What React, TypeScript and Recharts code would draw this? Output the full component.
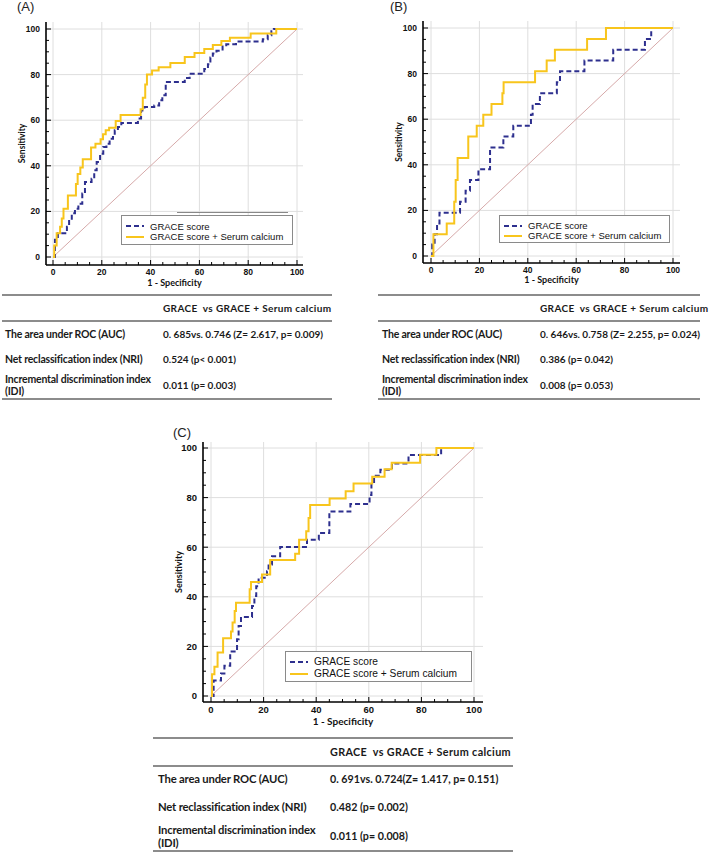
import React from "react";
import { LineChart, Line, XAxis, YAxis, CartesianGrid, Legend } from "recharts";

type Pt = [number, number];

// tick values (1 - specificity / sensitivity, %)
const majorTicks = [0, 20, 40, 60, 80, 100];
const minorTicks = [0, 5, 10, 15, 20, 25, 30, 35, 40, 45, 50, 55, 60, 65, 70, 75, 80, 85, 90, 95, 100];

const seriesNames = ["GRACE score", "GRACE score + Serum calcium"];

// ROC points
const aGrace: Pt[] = [
  [0, 0], [0.8, 7.6], [2, 10.4], [5.7, 13.3], [6.6, 16.2], [7.7, 19.2], [9, 21.2], [10.4, 23.4],
  [12, 27.8], [13.1, 32.9], [15.8, 34.3], [16.9, 38], [17.9, 41.7], [19.3, 45.3], [20.6, 48.2],
  [21.9, 49.7], [23.2, 51.9], [24.6, 53.4], [25.3, 55.6], [26.6, 57], [28, 58.8], [34.8, 60.7],
  [36.1, 64.3], [37.5, 65.8], [41.5, 66.5], [43.5, 68.7], [44.8, 70.9], [46.2, 76.8], [54, 78.5],
  [56, 80.4], [62, 82.5], [63.5, 84.5], [64.5, 87.5], [65.5, 89.3], [67, 90.5], [69.5, 92.3],
  [71, 93.3], [75, 94.5], [86, 95.5], [88, 97.3], [89.5, 99], [90.5, 100], [100, 100],
];
const aCalcium: Pt[] = [
  [0, 0], [0.5, 5], [1.5, 10.4], [2.9, 13.3], [3.6, 16.9], [4.3, 21.2], [6.1, 27], [9.4, 32],
  [10.1, 36.4], [11.2, 39.3], [12.2, 42.9], [15.6, 48], [17.4, 49.7], [19.5, 51.6], [20.5, 53.8],
  [21.6, 55.6], [23, 56.7], [25.7, 59.6], [27.7, 62.3], [35.9, 64.8], [36.8, 69.9], [37.8, 75.7],
  [38.5, 80], [40.6, 81.8], [43.3, 83.2], [48.1, 85.1], [54, 87.7], [58, 89.5], [62, 91.2],
  [65.5, 93], [69, 94.7], [72.5, 96.2], [81, 98], [91.5, 100], [100, 100],
];

// panel (B)
const bGrace: Pt[] = [
  [0, 0], [0.5, 5], [1.5, 9.5], [2.5, 14.3], [3.5, 19], [12, 23.8], [14.3, 28.6], [16.1, 33.3],
  [19.6, 38.1], [24.4, 47.6], [29.9, 52.4], [34, 57.1], [41.3, 61.9], [42, 66.7], [45, 71.4],
  [52, 76.2], [53.3, 81], [63.4, 85.7], [75.3, 90.5], [88.4, 95.2], [91, 100], [100, 100],
];
const bCalcium: Pt[] = [
  [0, 0], [1, 9.5], [6.5, 14.3], [9.6, 23.8], [10.2, 33.3], [11, 43], [15.4, 52.4], [18.9, 57.1],
  [21.6, 61.9], [25, 66.7], [29.5, 71.4], [30, 76.2], [43, 81], [47.8, 85.7], [51.2, 90.5],
  [64.5, 95.2], [72.3, 100], [100, 100],
];

// panel (C)
const cGrace: Pt[] = [
  [0, 0], [1, 6.2], [3.8, 9.1], [5.1, 12.2], [7.3, 17.9], [9.9, 22.9], [10.5, 28.2], [11.4, 31.9],
  [15.6, 36.3], [16.5, 40.3], [17.2, 44.3], [18.1, 47.7], [21.3, 50.3], [21.9, 53], [23.2, 56.4],
  [26.3, 60.1], [36.5, 63], [41, 65.7], [45, 74.4], [53, 77.4], [60.3, 81], [61, 85.8], [62, 88.8],
  [64.4, 91.2], [68.8, 93.8], [75.1, 97.2], [87.5, 100], [100, 100],
];
const cCalcium: Pt[] = [
  [0, 0], [0.4, 8.8], [1.3, 11.8], [2.5, 17.5], [4.6, 23.3], [7.6, 26], [8.2, 29.6], [9, 34.3],
  [9.5, 37.6], [14.7, 43], [15.2, 46], [19.4, 49], [22.5, 54.8], [32, 57.4], [33.5, 63], [36.2, 66.4],
  [37.1, 71.8], [37.7, 77], [45.1, 79.6], [51.2, 82.6], [54.2, 85.7], [61.3, 88.4], [66, 91.4],
  [68.7, 94.1], [79.5, 97.3], [85.7, 100], [100, 100],
];

const chance: Pt[] = [[0, 0], [100, 100]];

// table text
const tableHeader = "GRACE  vs GRACE + Serum calcium";
const rowLabels = [["The area under ROC (AUC)"], ["Net reclassification index (NRI)"], ["Incremental discrimination index", "(IDI)"]];
const aValues = ["0. 685vs. 0.746 (Z= 2.617, p= 0.009)", "0.524 (p< 0.001)", "0.011 (p= 0.003)"];
const bValues = ["0. 646vs. 0.758 (Z= 2.255, p= 0.024)", "0.386 (p= 0.042)", "0.008 (p= 0.053)"];
const cValues = ["0. 691vs. 0.724(Z= 1.417, p= 0.151)", "0.482 (p= 0.002)", "0.011 (p= 0.008)"];

const BLUE = "#2d2f8e";
const GOLD = "#f8c51c";
const ARIAL = '"Liberation Sans", Arial, sans-serif';
const CALIBRI = 'Lato, "Open Sans", sans-serif';

const toData = (pts: Pt[]) => pts.map(([x, y]) => ({ x, y }));

function XTick(props: any) {
  const { x, y, payload, fs } = props;
  const major = majorTicks.includes(payload.value);
  return (
    <g>
      <line x1={x} y1={y} x2={x} y2={y - (major ? 5 : 3)} stroke="#000" strokeWidth={1} />
      {major && (
        <text x={x} y={y + fs + 1.5} textAnchor="middle" fontSize={fs} fontWeight="bold" fontFamily={ARIAL} fill="#111">
          {payload.value}
        </text>
      )}
    </g>
  );
}

function YTick(props: any) {
  const { x, y, payload, fs } = props;
  const major = majorTicks.includes(payload.value);
  return (
    <g>
      <line x1={x} y1={y} x2={x + (major ? 5 : 3)} y2={y} stroke="#000" strokeWidth={1} />
      {major && (
        <text x={x - 6} y={y + fs * 0.36} textAnchor="end" fontSize={fs} fontWeight="bold" fontFamily={ARIAL} fill="#111">
          {payload.value}
        </text>
      )}
    </g>
  );
}

function LegendBox({ payload, box }: any) {
  const items = (payload || []).filter((p: any) => p.type !== "none");
  return (
    <div
      style={{
        position: "relative",
        width: box.width,
        height: box.height,
        border: "1px solid #8a8a8a",
        background: "#fff",
        boxSizing: "border-box",
      }}
    >
      {box.stray && (
        <div style={{ position: "absolute", left: box.stray[0], top: -4, width: box.stray[1], height: 1, background: "#888" }} />
      )}
      {items.map((entry: any, i: number) => (
        <div
          key={entry.value}
          style={{ position: "absolute", left: 4, top: box.rows[i] - 6, height: 12, display: "flex", alignItems: "center" }}
        >
          <svg width={18} height={4}>
            <line
              x1={0}
              y1={2}
              x2={18}
              y2={2}
              stroke={entry.color}
              strokeWidth={2}
              strokeDasharray={entry.value === seriesNames[0] ? "5 3" : undefined}
            />
          </svg>
          <span style={{ marginLeft: 6, fontSize: box.fs, fontFamily: ARIAL, color: "#111", whiteSpace: "nowrap" }}>
            {entry.value}
          </span>
        </div>
      ))}
    </div>
  );
}

function RocPanel({ cfg }: any) {
  return (
    <div style={{ position: "absolute", left: cfg.left, top: cfg.top }}>
      <LineChart width={cfg.width} height={cfg.height} margin={cfg.margin}>
        <CartesianGrid stroke="#dedede" horizontalValues={majorTicks} verticalValues={majorTicks} />
        <XAxis
          type="number"
          dataKey="x"
          domain={[0, 100]}
          ticks={minorTicks}
          interval={0}
          tickSize={0}
          tickMargin={0}
          height={cfg.xAxisHeight}
          padding={cfg.padX}
          axisLine={{ stroke: "#000", strokeWidth: 1.6 }}
          tick={(p: any) => <XTick {...p} fs={cfg.tickFs} />}
          label={{
            value: "1 - Specificity",
            position: "insideBottom",
            offset: cfg.xLabelOffset,
            fontSize: cfg.labelFs,
            fontWeight: "bold",
            fontFamily: CALIBRI,
            fill: "#111",
          }}
        />
        <YAxis
          type="number"
          dataKey="y"
          domain={[0, 100]}
          ticks={minorTicks}
          interval={0}
          tickSize={0}
          tickMargin={0}
          width={cfg.yAxisWidth}
          padding={cfg.padY}
          axisLine={{ stroke: "#000", strokeWidth: 1.6 }}
          tick={(p: any) => <YTick {...p} fs={cfg.tickFs} />}
          label={{
            value: "Sensitivity",
            angle: -90,
            position: "insideLeft",
            offset: cfg.yLabelOffset,
            textAnchor: "middle",
            fontSize: cfg.yLabelFs,
            fontWeight: "bold",
            fontFamily: CALIBRI,
            fill: "#111",
          }}
        />
        <Legend
          layout="horizontal"
          verticalAlign="middle"
          align="center"
          wrapperStyle={{ position: "absolute", left: cfg.legend.left, top: cfg.legend.top, width: cfg.legend.width }}
          content={(p: any) => <LegendBox payload={p.payload} box={cfg.legend} />}
        />
        <Line
          data={toData(chance)}
          dataKey="y"
          type="linear"
          stroke="#d6a9a9"
          strokeWidth={1}
          dot={false}
          legendType="none"
          isAnimationActive={false}
        />
        <Line
          data={toData(cfg.grace)}
          dataKey="y"
          name={seriesNames[0]}
          type="stepAfter"
          stroke={BLUE}
          strokeWidth={2}
          strokeDasharray="5 3"
          dot={false}
          isAnimationActive={false}
        />
        <Line
          data={toData(cfg.calcium)}
          dataKey="y"
          name={seriesNames[1]}
          type="stepAfter"
          stroke={GOLD}
          strokeWidth={2}
          dot={false}
          isAnimationActive={false}
        />
      </LineChart>
    </div>
  );
}

function StatsTable({ t, values }: any) {
  const line = (y: number) => (
    <div key={"l" + y} style={{ position: "absolute", left: 0, top: y - 1, width: t.width, height: 2, background: "#8c8c8c" }} />
  );
  const txt = (key: string, x: number, cy: number, s: string, fs: number, ls: number) => (
    <div
      key={key}
      style={{
        position: "absolute",
        left: x,
        top: cy - (fs + 2) / 2,
        height: fs + 2,
        lineHeight: `${fs + 2}px`,
        fontSize: fs,
        letterSpacing: ls,
        fontWeight: "bold",
        fontFamily: CALIBRI,
        color: "#1a1a1a",
        whiteSpace: "pre",
      }}
    >
      {s}
    </div>
  );
  return (
    <div style={{ position: "absolute", left: t.left, top: t.top, width: t.width }}>
      {t.lines.map(line)}
      {txt("h", t.valueX, t.headerY, tableHeader, t.headerFs, t.headerLs)}
      {rowLabels.map((lab, i) =>
        lab.map((s, j) =>
          txt(`r${i}${j}`, t.labelX, t.rowY[i] - ((lab.length - 1) * t.wrap) / 2 + j * t.wrap, s, t.labelFs, t.labelLs)
        )
      )}
      {values.map((v: string, i: number) => txt(`v${i}`, t.valueX, t.rowY[i], v, t.valueFs, 0))}
    </div>
  );
}

const panelA = {
  left: 0, top: 0, width: 320, height: 292,
  margin: { top: 22, right: 17, bottom: 5, left: 16 },
  yAxisWidth: 30, xAxisHeight: 22,
  padX: { left: 7, right: 6 }, padY: { top: 7, bottom: 8 },
  tickFs: 8.5, labelFs: 9, yLabelFs: 8.5, xLabelOffset: 1, yLabelOffset: 6,
  legend: { left: 121, top: 215, width: 172, height: 30, rows: [10, 20.7], fs: 9.5, stray: [55, 111] },
  grace: aGrace, calcium: aCalcium,
};
const panelB = {
  left: 377, top: 0, width: 320, height: 292,
  margin: { top: 21, right: 17, bottom: 7, left: 16 },
  yAxisWidth: 30, xAxisHeight: 22,
  padX: { left: 8, right: 7 }, padY: { top: 7, bottom: 7 },
  tickFs: 8.5, labelFs: 9, yLabelFs: 8.5, xLabelOffset: 2, yLabelOffset: 6,
  legend: { left: 122, top: 215, width: 171, height: 28, rows: [9.5, 19.5], fs: 9.5 },
  grace: bGrace, calcium: bCalcium,
};
const panelC = {
  left: 160, top: 420, width: 340, height: 310,
  margin: { top: 22, right: 17, bottom: 4, left: 11 },
  yAxisWidth: 32, xAxisHeight: 24,
  padX: { left: 8, right: 9 }, padY: { top: 6, bottom: 6 },
  tickFs: 9.5, labelFs: 10, yLabelFs: 9, xLabelOffset: 1, yLabelOffset: 8,
  legend: { left: 125, top: 231, width: 187, height: 31, rows: [9.5, 21.5], fs: 10.2 },
  grace: cGrace, calcium: cCalcium,
};

const tableA = {
  left: 2, top: 295, width: 330, labelX: 3, valueX: 161, lines: [0, 26, 104], headerY: 13, rowY: [39, 64, 90], wrap: 12.5,
  labelFs: 10.5, labelLs: -0.2, valueFs: 10, headerFs: 10, headerLs: 0.35,
};
const tableB = {
  left: 378, top: 295, width: 322, labelX: 4, valueX: 162, lines: [0, 26, 104], headerY: 13, rowY: [39, 64, 90], wrap: 12.5,
  labelFs: 10.5, labelLs: -0.2, valueFs: 10, headerFs: 10, headerLs: 0.35,
};
const tableC = {
  left: 153, top: 738, width: 360, labelX: 5, valueX: 177, lines: [0, 28, 113], headerY: 14, rowY: [41, 69, 98], wrap: 13.5,
  labelFs: 11.3, labelLs: -0.2, valueFs: 10.7, headerFs: 10.8, headerLs: 0.35,
};

const panelLabel = (s: string, left: number, top: number) => (
  <div style={{ position: "absolute", left, top, fontSize: 13, fontFamily: ARIAL, color: "#222", lineHeight: "14px" }}>{s}</div>
);

export default function App() {
  return (
    <div style={{ position: "absolute", left: 0, top: 0, width: 709, height: 852, background: "#fff", overflow: "hidden" }}>
      {panelLabel("(A)", 17, 0)}
      {panelLabel("(B)", 390, 0)}
      {panelLabel("(C)", 173, 426)}
      <RocPanel cfg={panelA} />
      <RocPanel cfg={panelB} />
      <RocPanel cfg={panelC} />
      <StatsTable t={tableA} values={aValues} />
      <StatsTable t={tableB} values={bValues} />
      <StatsTable t={tableC} values={cValues} />
    </div>
  );
}
